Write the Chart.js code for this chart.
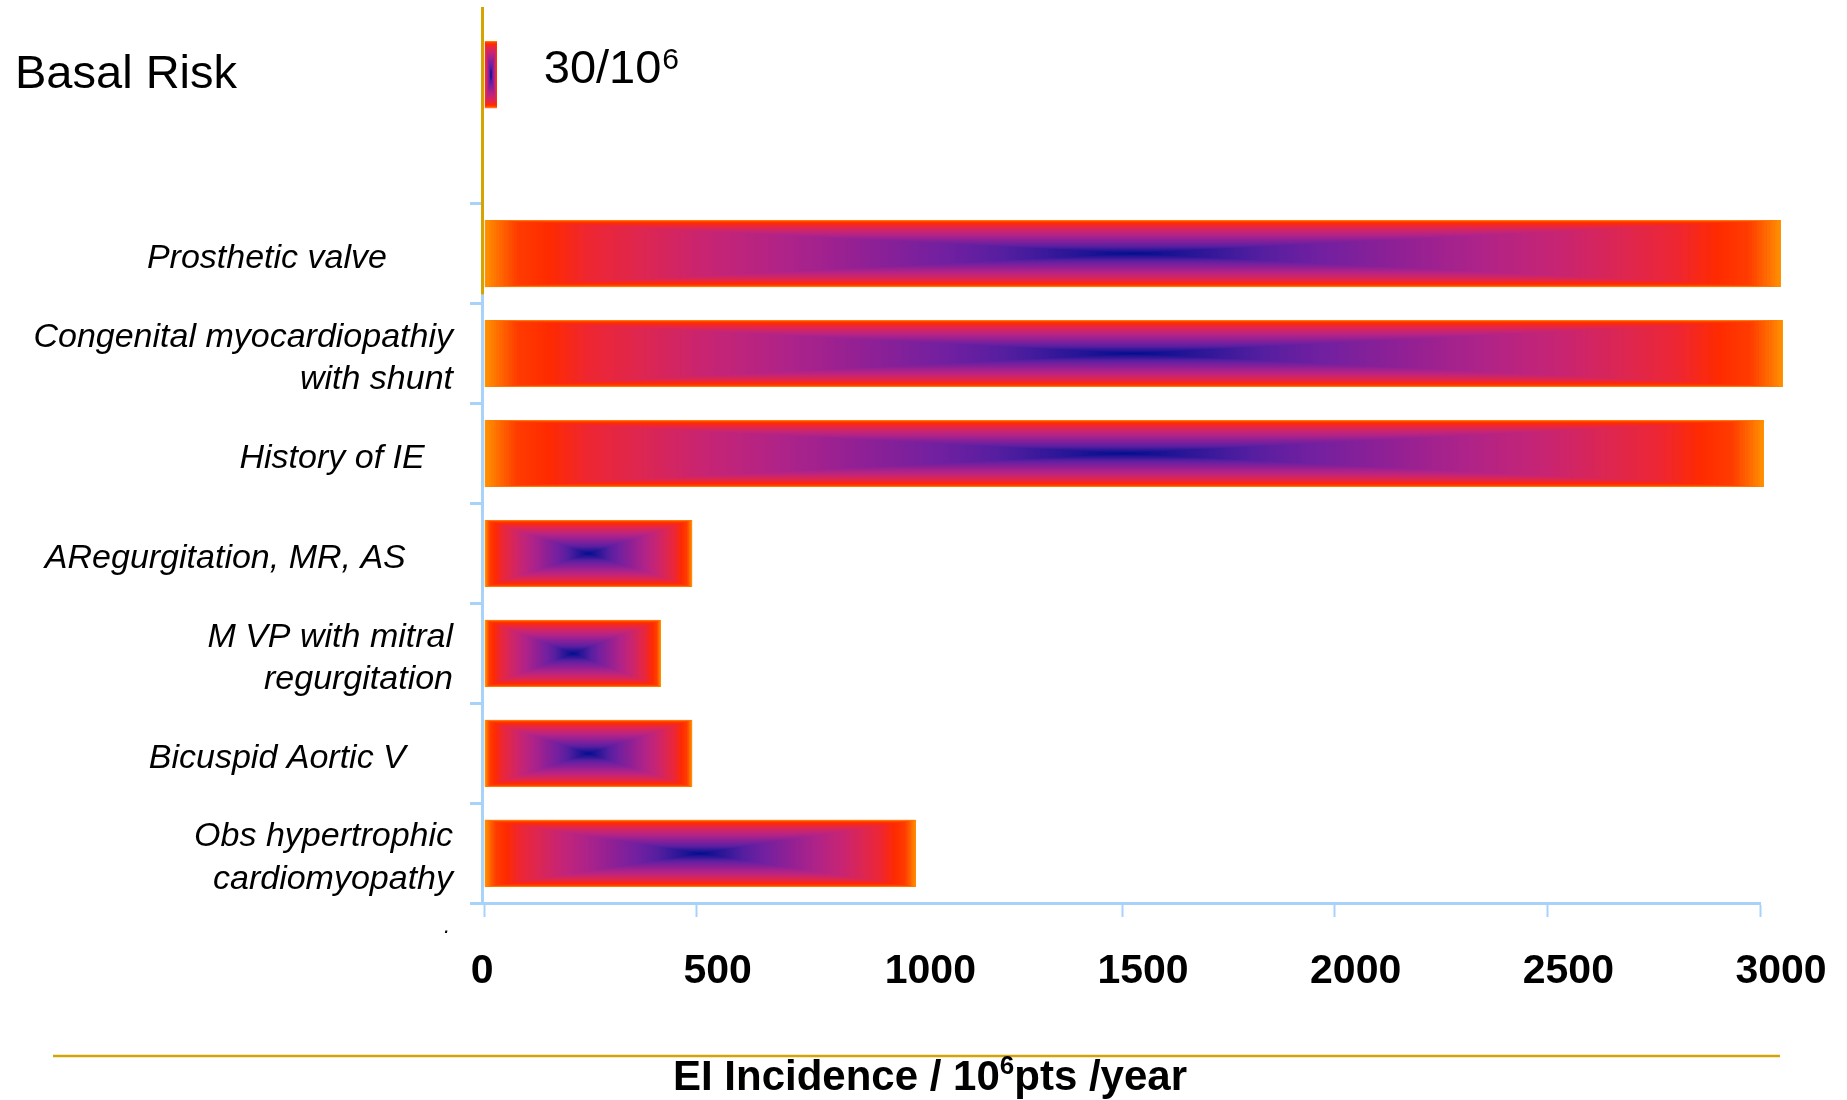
<!DOCTYPE html>
<html>
<head>
<meta charset="utf-8">
<title>EI incidence by predisposing condition</title>
<script src="https://cdn.jsdelivr.net/npm/chart.js@4/dist/chart.umd.min.js"></script>
<style>
  html, body { margin: 0; padding: 0; background: #ffffff; }
  #wrap { position: relative; width: 1847px; height: 1100px; }
</style>
</head>
<body>
<div id="wrap"><canvas id="chart" width="1847" height="1100"></canvas></div>
<script>
// Row labels, top to bottom: the population baseline, an empty spacer row, then the conditions.
const categories = [
  'Basal Risk',
  '',
  'Prosthetic valve',
  ['Congenital myocardiopathiy', 'with shunt'],
  'History of IE',
  'ARegurgitation, MR, AS',
  ['M VP with mitral', 'regurgitation'],
  'Bicuspid Aortic V',
  ['Obs hypertrophic', 'cardiomyopathy']
];

// Baseline incidence, per 10^6 people per year.
const basalRisk = [30];
const basalRiskText = ['30/10', '6'];

// Incidence per 10^6 patients per year, one value per row (null = no bar).
const incidence = [null, null, 3050, 3055, 3010, 490, 415, 490, 1015];

// Value-axis ticks and title.
const xTicks = [0, 500, 1000, 1500, 2000, 2500, 3000];
const axisTitle = ['EI Incidence / 10', '6', 'pts /year'];

// ---- styling ----
const FONT = "'Liberation Sans', Arial, Helvetica, sans-serif";
const BLUE = '#A8D2FA';
const GOLD = '#D6A300';
const CLEAR = 'rgba(0,0,0,0)';
// trailing spaces after each row label (keeps the short labels set back from the axis)
const labelIndent = [0, 0, 7, 0, 3, 5, 0, 5, 0];

// Colour ramp of the bar fill: t = 0 at the bar centre, t = 1 at its edge.
const rampStops = [
  [0.00, '#000E8E'],
  [0.10, '#2C1698'],
  [0.20, '#561EA0'],
  [0.30, '#7420A0'],
  [0.42, '#922094'],
  [0.54, '#B02388'],
  [0.66, '#C82472'],
  [0.76, '#DE2650'],
  [0.84, '#EE2632'],
  [0.90, '#FF2A00'],
  [0.95, '#FF3C00'],
  [0.975, '#FF6400'],
  [1.00, '#FF9400']
];

function hexRgb(h) {
  const n = parseInt(h.slice(1), 16);
  return [(n >> 16) & 255, (n >> 8) & 255, n & 255];
}

const lut = (() => {
  const out = new Uint8ClampedArray(256 * 3);
  const stops = rampStops.map(s => [s[0], hexRgb(s[1])]);
  for (let i = 0; i < 256; i++) {
    const t = i / 255;
    let k = 0;
    while (k < stops.length - 2 && t > stops[k + 1][0]) k++;
    const [t0, c0] = stops[k];
    const [t1, c1] = stops[k + 1];
    const f = Math.min(1, Math.max(0, (t - t0) / (t1 - t0)));
    for (let c = 0; c < 3; c++) out[i * 3 + c] = c0[c] + (c1[c] - c0[c]) * f;
  }
  return out;
})();

// Rectangular (box) gradient: colour depends on the larger of the two
// normalised distances from the bar centre.
function paintBox(ctx, left, top, w, h) {
  const x0 = Math.round(left), y0 = Math.round(top);
  const W = Math.round(left + w) - x0, H = Math.round(top + h) - y0;
  if (W < 1 || H < 1) return;
  const img = ctx.createImageData(W, H);
  const d = img.data;
  const hw = W / 2, hh = H / 2;
  for (let j = 0; j < H; j++) {
    const ty = Math.abs(j + 0.5 - hh) / hh;
    for (let i = 0; i < W; i++) {
      const tx = Math.abs(i + 0.5 - hw) / hw;
      const t = Math.max(tx, ty);
      const k = Math.min(255, Math.round(t * 255)) * 3;
      const p = (j * W + i) * 4;
      d[p] = lut[k]; d[p + 1] = lut[k + 1]; d[p + 2] = lut[k + 2]; d[p + 3] = 255;
    }
  }
  ctx.putImageData(img, x0, y0);
}

const decorations = {
  id: 'decorations',
  beforeDatasetsDraw(chart) {
    const ctx = chart.ctx, area = chart.chartArea, ys = chart.scales.y;
    const xLine = area.left - 1.5;
    const slot = ys.getPixelForValue(3) - ys.getPixelForValue(2);
    const split = ys.getPixelForValue(2) + 0.41 * slot;
    ctx.save();
    ctx.lineWidth = 3;
    ctx.strokeStyle = GOLD;
    ctx.beginPath(); ctx.moveTo(xLine, area.top + 3); ctx.lineTo(xLine, split); ctx.stroke();
    ctx.strokeStyle = BLUE;
    ctx.beginPath(); ctx.moveTo(xLine, split); ctx.lineTo(xLine, area.bottom + 1.5); ctx.stroke();
    ctx.restore();
  },
  afterDatasetsDraw(chart) {
    const ctx = chart.ctx;
    chart.getSortedVisibleDatasetMetas().forEach(meta => {
      if (meta.index === 0) return; // grouping placeholder
      meta.data.forEach((el, i) => {
        const parsed = meta._parsed[i];
        if (!parsed || parsed.x === null || parsed.x === undefined || parsed.x === 0) return;
        const p = el.getProps(['x', 'y', 'base', 'height'], true);
        const left = Math.min(p.x, p.base);
        const w = Math.abs(p.x - p.base);
        paintBox(ctx, left, p.y - p.height / 2, w, p.height);
      });
    });

    // baseline row: bar value text and row label
    const basalEl = chart.getDatasetMeta(1).data[0];
    if (basalEl) {
      const b = basalEl.getProps(['x', 'y'], true);
      ctx.save();
      ctx.fillStyle = '#000';
      ctx.textAlign = 'left';
      ctx.textBaseline = 'alphabetic';
      ctx.font = `47px ${FONT}`;
      const tx = b.x + 47, ty = b.y + 8;
      ctx.fillText(basalRiskText[0], tx, ty);
      const w0 = ctx.measureText(basalRiskText[0]).width;
      ctx.font = `30px ${FONT}`;
      ctx.fillText(basalRiskText[1], tx + w0 + 1, ty - 14);

      ctx.font = `47px ${FONT}`;
      ctx.fillText(categories[0], 15, chart.scales.y.getPixelForValue(0) + 34);
      ctx.restore();
    }
  },
  afterDraw(chart) {
    const ctx = chart.ctx;
    ctx.save();
    // rule above the axis title
    ctx.strokeStyle = '#D4A50A';
    ctx.lineWidth = 2.5;
    ctx.beginPath(); ctx.moveTo(53, 1056); ctx.lineTo(1780, 1056); ctx.stroke();

    // axis title with superscript exponent
    ctx.fillStyle = '#000';
    ctx.textBaseline = 'alphabetic';
    ctx.textAlign = 'left';
    const big = `bold 42px ${FONT}`, sup = `bold 26px ${FONT}`;
    ctx.font = big;
    const w1 = ctx.measureText(axisTitle[0]).width;
    const w3 = ctx.measureText(axisTitle[2]).width;
    ctx.font = sup;
    const w2 = ctx.measureText(axisTitle[1]).width;
    const x0 = 930 - (w1 + w2 + w3) / 2, base = 1090;
    ctx.font = big;
    ctx.fillText(axisTitle[0], x0, base);
    ctx.font = sup;
    ctx.fillText(axisTitle[1], x0 + w1, base - 16);
    ctx.font = big;
    ctx.fillText(axisTitle[2], x0 + w1 + w2, base);

    // small stray mark left of the axis origin
    ctx.font = `italic 22px ${FONT}`;
    ctx.fillText('.', 444, 933);
    ctx.restore();
  }
};

new Chart(document.getElementById('chart'), {
  type: 'bar',
  data: {
    labels: categories,
    datasets: [
      // zero-length placeholder so the baseline bar sits in the lower part of its row
      { label: 'placeholder', data: [0], categoryPercentage: 0.84, barPercentage: 1.6 },
      { label: 'Basal risk', data: basalRisk, categoryPercentage: 0.84, barPercentage: 1.6 },
      { label: 'EI incidence', data: incidence, categoryPercentage: 1, barPercentage: 0.67 }
    ]
  },
  options: {
    indexAxis: 'y',
    responsive: false,
    animation: false,
    devicePixelRatio: 1,
    layout: { padding: { left: 0, top: 4, right: 87, bottom: 0 } },
    datasets: {
      bar: { skipNull: true, backgroundColor: CLEAR, borderWidth: 0 }
    },
    plugins: {
      legend: { display: false },
      tooltip: { enabled: false },
      title: { display: false }
    },
    scales: {
      x: {
        type: 'linear',
        position: 'bottom',
        min: 0,
        max: 3000,
        afterBuildTicks: s => { s.ticks = xTicks.map(v => ({ value: v })); },
        afterFit: s => {
          s.height = 197;
          s.paddingLeft = 0; s.paddingRight = 0; s.paddingTop = 0; s.paddingBottom = 0;
        },
        grid: {
          drawOnChartArea: false,
          drawTicks: true,
          tickLength: 14,
          tickWidth: 2,
          tickColor: c => (c.tick && c.tick.value === 1000) ? CLEAR : BLUE
        },
        border: { display: true, color: BLUE, width: 3 },
        ticks: {
          font: { family: FONT, size: 41, weight: 'bold' },
          color: '#000',
          padding: 30,
          labelOffset: 21,
          maxRotation: 0,
          autoSkip: false,
          callback: v => (v === 0 ? '0    ' : String(v))
        }
      },
      y: {
        type: 'category',
        position: 'left',
        afterFit: s => {
          s.width = 484;
          s.paddingLeft = 0; s.paddingRight = 0; s.paddingTop = 0; s.paddingBottom = 0;
        },
        grid: {
          offset: true,
          drawOnChartArea: false,
          drawTicks: true,
          tickLength: 14,
          tickWidth: 3,
          tickColor: c => (c.index === 0 || c.index === 1) ? CLEAR : BLUE
        },
        border: { display: false },
        ticks: {
          font: { family: FONT, size: 34, style: 'italic', lineHeight: 1.24 },
          color: '#000',
          padding: 17,
          labelOffset: 5,
          autoSkip: false,
          callback: (v) => {
            if (v === 0) return '';
            const lab = categories[v];
            const pad = ' '.repeat(labelIndent[v]);
            return Array.isArray(lab) ? lab.map(l => l + pad) : lab + pad;
          }
        }
      }
    }
  },
  plugins: [decorations]
});
</script>
</body>
</html>
